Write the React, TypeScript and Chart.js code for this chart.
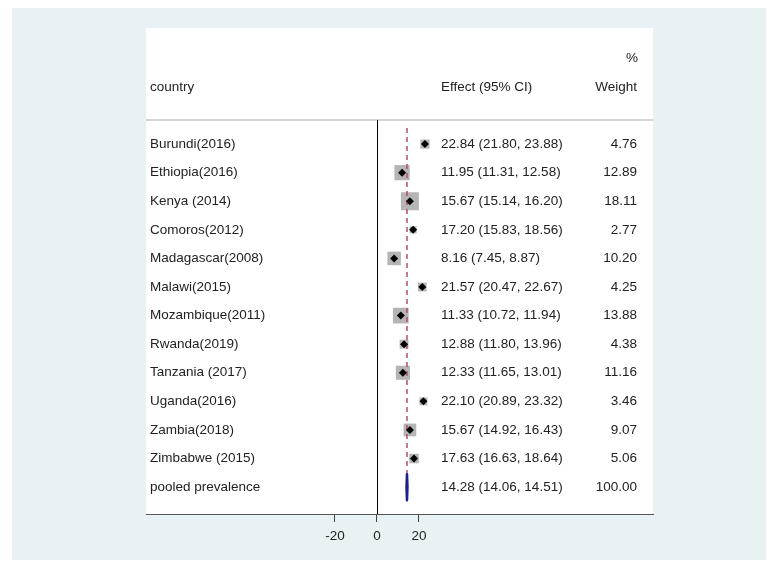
import React, { useEffect, useRef } from "react";
import { Chart, registerables } from "chart.js";

Chart.register(...registerables);

const countries = [
  "Burundi(2016)", "Ethiopia(2016)", "Kenya (2014)", "Comoros(2012)", "Madagascar(2008)",
  "Malawi(2015)", "Mozambique(2011)", "Rwanda(2019)", "Tanzania (2017)", "Uganda(2016)",
  "Zambia(2018)", "Zimbabwe (2015)",
];
const estimates = [22.84, 11.95, 15.67, 17.2, 8.16, 21.57, 11.33, 12.88, 12.33, 22.1, 15.67, 17.63];
const lowers = [21.8, 11.31, 15.14, 15.83, 7.45, 20.47, 10.72, 11.8, 11.65, 20.89, 14.92, 16.63];
const uppers = [23.88, 12.58, 16.2, 18.56, 8.87, 22.67, 11.94, 13.96, 13.01, 23.32, 16.43, 18.64];
const weights = [4.76, 12.89, 18.11, 2.77, 10.2, 4.25, 13.88, 4.38, 11.16, 3.46, 9.07, 5.06];

const pooledLabel = "pooled prevalence";
const pooledEstimate = 14.28;
const pooledLower = 14.06;
const pooledUpper = 14.51;
const pooledWeight = 100.0;

const xTicks = [-20, 0, 20];
const headerCountry = "country";
const headerEffect = "Effect (95% CI)";
const headerWeightTop = "%";
const headerWeight = "Weight";

const FONT = "13.5px 'Liberation Sans', Arial, sans-serif";
const TEXT = "#222222";

const fmt = (e: number, l: number, u: number) =>
  `${e.toFixed(2)} (${l.toFixed(2)}, ${u.toFixed(2)})`;

export default function App() {
  const ref = useRef<HTMLCanvasElement | null>(null);

  useEffect(() => {
    if (!ref.current) return;
    const pooledRow = countries.length;

    const forestPlugin = {
      id: "forest",
      beforeDraw(chart: any) {
        const { ctx, chartArea: a, width, height } = chart;
        ctx.save();
        ctx.fillStyle = "#e8f1f4";
        ctx.fillRect(0, 0, width, height);
        ctx.fillStyle = "#ffffff";
        ctx.fillRect(a.left, a.top, a.right - a.left, a.bottom - a.top);
        ctx.restore();
      },
      beforeDatasetsDraw(chart: any) {
        const { ctx, chartArea: a, scales } = chart;
        const x = scales.x, y = scales.y;
        ctx.save();
        ctx.strokeStyle = "#d4d4d4";
        ctx.lineWidth = 2;
        const hy = y.getPixelForValue(-0.84);
        ctx.beginPath();
        ctx.moveTo(a.left, hy);
        ctx.lineTo(a.right, hy);
        ctx.stroke();
        ctx.strokeStyle = "#000";
        ctx.lineWidth = 1;
        const zx = Math.round(x.getPixelForValue(0)) + 0.5;
        ctx.beginPath();
        ctx.moveTo(zx, hy);
        ctx.lineTo(zx, a.bottom);
        ctx.stroke();
        ctx.restore();
      },
      afterDatasetDraw(chart: any, args: any) {
        if (args.index !== 1) return;
        const { ctx, scales } = chart;
        const x = scales.x, y = scales.y;
        ctx.save();
        ctx.strokeStyle = "#000";
        ctx.lineWidth = 1;
        estimates.forEach((_, i) => {
          const py = y.getPixelForValue(i);
          ctx.beginPath();
          ctx.moveTo(x.getPixelForValue(lowers[i]), py);
          ctx.lineTo(x.getPixelForValue(uppers[i]), py);
          ctx.stroke();
        });
        ctx.strokeStyle = "#b0506a";
        ctx.lineWidth = 1.5;
        ctx.setLineDash([5, 4]);
        const dx = x.getPixelForValue(pooledEstimate);
        ctx.beginPath();
        ctx.moveTo(dx, y.getPixelForValue(-0.56));
        ctx.lineTo(dx, y.getPixelForValue(pooledRow));
        ctx.stroke();
        ctx.setLineDash([]);
        ctx.restore();
      },
      afterDatasetsDraw(chart: any) {
        const { ctx, chartArea: a, scales } = chart;
        const x = scales.x, y = scales.y;
        ctx.save();
        const py = y.getPixelForValue(pooledRow);
        const cx = x.getPixelForValue(pooledEstimate);
        const lx = x.getPixelForValue(pooledLower);
        const ux = x.getPixelForValue(pooledUpper);
        ctx.fillStyle = "#1f1f8a";
        ctx.strokeStyle = "#1f1f8a";
        ctx.lineWidth = 2.5;
        ctx.lineJoin = "round";
        ctx.beginPath();
        ctx.moveTo(lx, py);
        ctx.lineTo(cx, py - 13);
        ctx.lineTo(ux, py);
        ctx.lineTo(cx, py + 13);
        ctx.closePath();
        ctx.fill();
        ctx.stroke();

        ctx.font = FONT;
        ctx.fillStyle = TEXT;
        ctx.textBaseline = "middle";
        const leftX = a.left + 4;
        const effX = x.getPixelForValue(30.5);
        const wX = a.right - 16;
        ctx.textAlign = "left";
        ctx.fillText(headerCountry, leftX, y.getPixelForValue(-2));
        ctx.fillText(headerEffect, effX, y.getPixelForValue(-2));
        ctx.textAlign = "right";
        ctx.fillText(headerWeightTop, wX + 1, y.getPixelForValue(-3));
        ctx.fillText(headerWeight, wX, y.getPixelForValue(-2));
        countries.forEach((c, i) => {
          const ry = y.getPixelForValue(i);
          ctx.textAlign = "left";
          ctx.fillText(c, leftX, ry);
          ctx.fillText(fmt(estimates[i], lowers[i], uppers[i]), effX, ry);
          ctx.textAlign = "right";
          ctx.fillText(weights[i].toFixed(2), wX, ry);
        });
        ctx.textAlign = "left";
        ctx.fillText(pooledLabel, leftX, py);
        ctx.fillText(fmt(pooledEstimate, pooledLower, pooledUpper), effX, py);
        ctx.textAlign = "right";
        ctx.fillText(pooledWeight.toFixed(2), wX, py);
        ctx.restore();
      },
    };

    const points = estimates.map((e, i) => ({ x: e, y: i }));

    const chart = new Chart(ref.current, {
      type: "scatter",
      data: {
        datasets: [
          {
            label: "estimates",
            data: points,
            pointStyle: "rectRot",
            pointRadius: 4,
            backgroundColor: "#000",
            borderColor: "#000",
            borderWidth: 0,
          },
          {
            label: "weights",
            data: points,
            pointStyle: "rect",
            pointRadius: weights.map((w) => 2.99 * Math.sqrt(w)),
            pointHoverRadius: weights.map((w) => 2.99 * Math.sqrt(w)),
            backgroundColor: "#b5b5b5",
            borderColor: "#b5b5b5",
            borderWidth: 0,
          },
        ],
      },
      options: {
        animation: false,
        responsive: false,
        events: [],
        layout: { padding: { left: 134, right: 113, top: 20, bottom: 0 } },
        plugins: { legend: { display: false }, tooltip: { enabled: false } },
        scales: {
          x: {
            type: "linear",
            min: -110,
            max: 131.43,
            afterBuildTicks: (s: any) => {
              s.ticks = xTicks.map((v) => ({ value: v }));
            },
            afterFit: (s: any) => {
              s.height = 46;
            },
            grid: { drawOnChartArea: false, drawTicks: true, tickLength: 8, color: "#444" },
            border: { display: true, color: "#555", width: 1 },
            ticks: {
              color: TEXT,
              padding: 6,
              font: { family: "'Liberation Sans', Arial, sans-serif", size: 13.5 },
              callback: (v: any) => String(v),
            },
          },
          y: {
            type: "linear",
            display: false,
            reverse: true,
            min: -4.06,
            max: 12.94,
          },
        },
      },
      plugins: [forestPlugin],
    });
    return () => chart.destroy();
  }, []);

  return (
    <div style={{ position: "absolute", left: 12, top: 8, width: 754, height: 552 }}>
      <canvas ref={ref} width={754} height={552} style={{ display: "block", width: 754, height: 552 }} />
    </div>
  );
}
